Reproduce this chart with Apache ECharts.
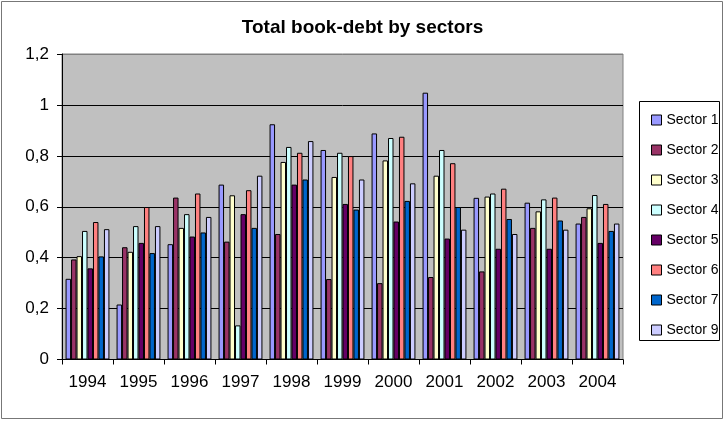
<!DOCTYPE html>
<html>
<head>
<meta charset="utf-8">
<script src="https://cdn.jsdelivr.net/npm/echarts@6/dist/echarts.min.js"></script>
<style>html,body{margin:0;padding:0;background:#fff}#c{width:725px;height:421px}</style>
</head>
<body>
<div id="c"></div>
<script>
var years = ['1994','1995','1996','1997','1998','1999','2000','2001','2002','2003','2004'];
var yTickLabels = ['0','0,2','0,4','0,6','0,8','1','1,2'];
var seriesNames = ['Sector 1','Sector 2','Sector 3','Sector 4','Sector 5','Sector 6','Sector 7','Sector 9'];
var seriesColors = ['#9999FF','#993366','#FFFFCC','#CCFFFF','#660066','#FF8080','#0066CC','#CCCCFF'];
var sector1 = [0.317,0.216,0.453,0.687,0.924,0.823,0.888,1.048,0.635,0.616,0.534];
var sector2 = [0.393,0.441,0.636,0.463,0.493,0.316,0.300,0.324,0.346,0.517,0.560];
var sector3 = [0.406,0.423,0.517,0.645,0.776,0.717,0.782,0.722,0.640,0.582,0.594];
var sector4 = [0.505,0.524,0.571,0.134,0.835,0.812,0.870,0.823,0.652,0.629,0.646];
var sector5 = [0.358,0.458,0.483,0.571,0.687,0.611,0.542,0.475,0.435,0.435,0.458];
var sector6 = [0.540,0.599,0.652,0.665,0.812,0.799,0.875,0.771,0.671,0.636,0.611];
var sector7 = [0.405,0.418,0.499,0.517,0.707,0.589,0.623,0.599,0.552,0.546,0.505];
var sector9 = [0.512,0.524,0.560,0.722,0.858,0.707,0.692,0.510,0.493,0.510,0.534];
var allData = [sector1,sector2,sector3,sector4,sector5,sector6,sector7,sector9];

var FONT = '"Liberation Sans", Arial, sans-serif';
var chart = echarts.init(document.getElementById('c'), null, {renderer:'canvas'});
var series = seriesNames.map(function(n,i){
  return {
    name:n, type:'bar', data:allData[i],
    barGap:0, barCategoryGap:'14%',
    itemStyle:{color:seriesColors[i], borderColor:'#000', borderWidth:1},
    emphasis:{disabled:true}, animation:false
  };
});
chart.setOption({
  animation:false,
  backgroundColor:'#fff',
  graphic:[
    {type:'rect', z:100, silent:true, shape:{x:1.5,y:1.5,width:721,height:417}, style:{fill:null, stroke:'#777', lineWidth:1}},
    {type:'rect', z:-1, silent:true, shape:{x:639.5,y:101.5,width:80,height:239}, style:{fill:'#fff', stroke:'#000', lineWidth:1}}
  ],
  title:{
    text:'Total book-debt by sectors', left:'center', top:13,
    textStyle:{fontFamily:FONT, fontSize:19, fontWeight:'bold', color:'#000'}
  },
  legend:{
    orient:'vertical', left:646, top:108,
    itemWidth:10, itemHeight:10, itemGap:16,
    icon:'rect',
    itemStyle:{borderColor:'#000', borderWidth:1},
    textStyle:{fontFamily:FONT, fontSize:14, lineHeight:14, color:'#000'},
    data:seriesNames
  },
  grid:{left:62, top:54, right:102, bottom:61.5, show:true, backgroundColor:'#C0C0C0', borderColor:'#808080', borderWidth:1, containLabel:false},
  xAxis:{
    type:'category', data:years,
    axisLine:{lineStyle:{color:'#000', width:1}},
    axisTick:{show:true, length:5, lineStyle:{color:'#000'}},
    axisLabel:{fontFamily:FONT, fontSize:17, color:'#000', margin:14}
  },
  yAxis:{
    type:'value', min:0, max:1.2, interval:0.2,
    axisLine:{show:true, lineStyle:{color:'#000', width:1}},
    axisTick:{show:true, length:5, lineStyle:{color:'#000'}},
    axisLabel:{fontFamily:FONT, fontSize:17, color:'#000', margin:13,
      formatter:function(v){ return yTickLabels[Math.round(v/0.2)]; }},
    splitLine:{show:true, lineStyle:{color:['#000','#000','#000','#000','#000','#000','#808080'], width:1}}
  },
  series:series
});
</script>
</body>
</html>
